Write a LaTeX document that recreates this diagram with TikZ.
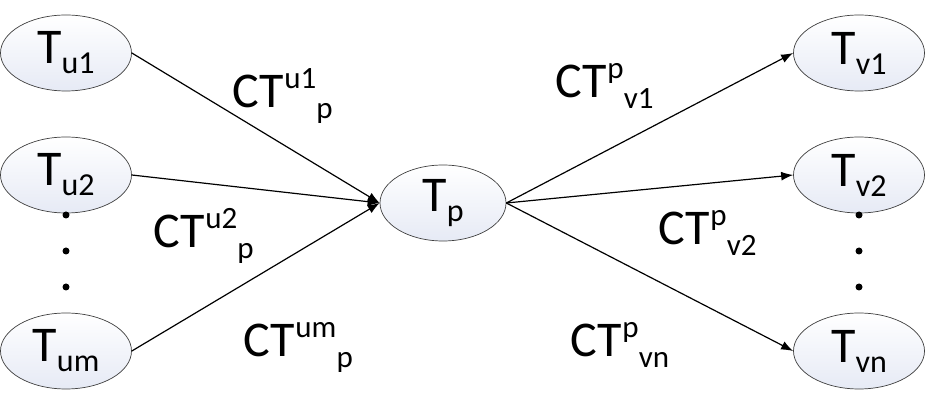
\documentclass[tikz,border=0pt]{standalone}
\usepackage{fontspec}
\setmainfont{Carlito}
\usepackage{tikz}
\usetikzlibrary{arrows.meta,shapes.geometric}

\definecolor{ellfill}{RGB}{230,234,245}
\newcommand{\tname}[1]{T\raisebox{-10pt}{\fontsize{32}{32}\selectfont #1}}
\newcommand{\ctname}[2]{CT\kern1pt\raisebox{19pt}{\fontsize{31}{31}\selectfont #1}\raisebox{-11pt}{\fontsize{31}{31}\selectfont #2}}

\begin{document}
\begin{tikzpicture}[x=1pt,y=-1pt,
		task/.style={ellipse,draw=black!75,line width=0.7pt,top color=white,bottom color=ellfill,
			minimum width=131pt,minimum height=76pt,inner sep=0pt,font=\fontsize{50}{50}\selectfont},
		ctlabel/.style={anchor=base west,inner sep=0pt,font=\fontsize{50}{50}\selectfont},
		flow/.style={-{Latex[length=12pt,width=9pt]},line width=1.2pt}]
		\useasboundingbox (0,0) rectangle (927,411);
		
		% predecessors
		\node[task] (u1) at (66,53) {\tname{u1}};
		\node[task] (u2) at (66,175) {\tname{u2}};
		\node[task] (um) at (66,351) {\tname{um}};
		
		\node[task,minimum width=126pt] (p) at (443,203) {\tname{p}};
		
		% successors
		\node[task] (v1) at (859,53) {\tname{v1}};
		\node[task] (v2) at (859,175) {\tname{v2}};
		\node[task] (vn) at (859,351) {\tname{vn}};
		
		\foreach \y in {215,251,287} {
			\fill (66,\y) circle (3.5pt);
			\fill (859,\y) circle (3.5pt);
		}
		
		\draw[flow] (u1.east) -- (p.west);
		\draw[flow] (u2.east) -- (p.west);
		\draw[flow] (um.east) -- (p.west);
		\draw[flow] (p.east) -- (v1.west);
		\draw[flow] (p.east) -- (v2.west);
		\draw[flow] (p.east) -- (vn.west);
		
		\node[ctlabel] (c1) at (232,108) {\ctname{u1}{p}};
		\node[ctlabel] (c2) at (153,248) {\ctname{u2}{p}};
		\node[ctlabel] (cm) at (243,357) {\ctname{um}{p}};
		\node[ctlabel] (d1) at (555,98) {\ctname{p}{v1}};
		\node[ctlabel] (d2) at (658,245) {\ctname{p}{v2}};
		\node[ctlabel] (dn) at (570,357) {\ctname{p}{vn}};
	\end{tikzpicture}
\end{document}
